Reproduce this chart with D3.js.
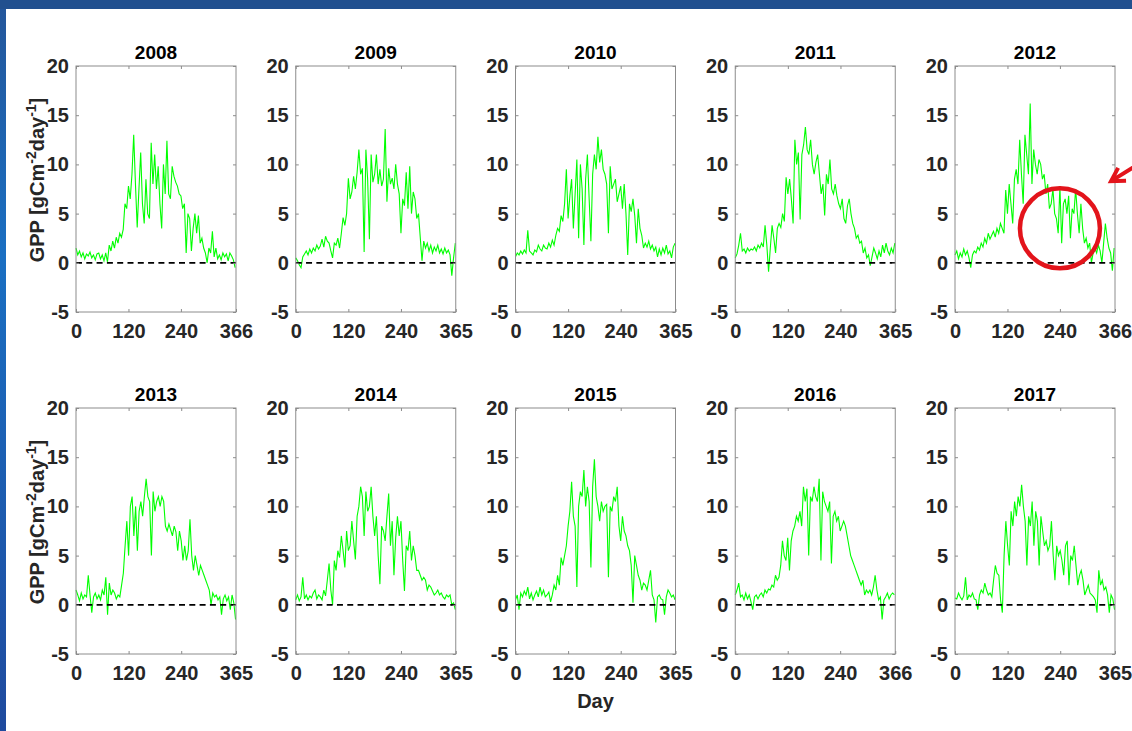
<html>
<head>
    <script src="https://d3js.org/d3.v7.min.js"></script>
</head>
<style>
    body { margin: 0; background: white; }
    .gppchart { font-family: Arial, "Liberation Sans", sans-serif; }
    .tick line { stroke: #8c8c8c; stroke-width: 1px; }
    .tick text { font-size: 20px; font-weight: bold; fill: #262626; }
    .box { fill: none; stroke: #8c8c8c; stroke-width: 1px; }
    .gpp { fill: none; stroke: #00ff00; stroke-width: 1.1px; }
    .zero { stroke: black; stroke-width: 1.8px; stroke-dasharray: 6,4.3; }
</style>
<body>
    <svg id="gppchart" class="gppchart" width="1132" height="731"></svg>

    <script>
        const years = [2008, 2009, 2010, 2011, 2012, 2013, 2014, 2015, 2016, 2017];
        const yearLength = [366, 365, 365, 365, 366, 365, 365, 365, 366, 365];
        const dayStep = 4;
        const dayTicks = [0, 120, 240];
        const gppTicks = [-5, 0, 5, 10, 15, 20];

        const gpp2008 = [1.5, 0.8, 1.2, 0.6, 1.0, 0.4, 0.9, 0.7, 1.1, 0.5, 0.8, 0.3, 0.9, 1.0, 0.4, 0.8, 0.2, 1.0,
            0.1, 1.8, 1.2, 2.2, 1.5, 2.6, 2.0, 3.0, 2.6, 3.4,
            6.0, 5.5, 7.8, 6.5, 9.0, 13.0,
            8.0, 3.6, 7.5, 11.2, 6.0, 4.0, 8.5, 5.0, 4.5, 12.2, 8.0, 11.0,
            7.5, 9.8, 6.0, 3.5, 10.0, 7.0, 12.4, 7.0, 6.5, 9.8, 8.8, 8.2,
            7.8, 7.0, 6.8, 5.5, 6.0, 1.0, 5.0, 4.5, 1.2, 3.5, 5.0, 3.0,
            4.8, 2.0, 2.5, 1.5, 1.0, 0.0, 1.5, 1.0, 3.2, 0.6, 1.5, 0.4,
            0.8, 0.3, 1.0, 0.6, 0.9, 0.2, 1.0, 0.7, 0.3, -0.5];
        const gpp2009 = [0.5, 0.2, -0.2, -0.5, 0.6, 0.9, 1.2, 0.8, 1.4, 1.0,
            1.5, 1.2, 1.8, 1.4, 1.7, 2.4, 1.6, 2.7, 2.2, 2.0,
            1.2, 0.5, 2.0, 1.8, 2.5, 1.5, 3.0, 4.6, 3.8, 5.0,
            8.6, 6.5, 7.2, 8.8, 7.5, 9.2, 11.5, 9.0, 9.6, 1.1,
            11.5, 8.5, 2.4, 11.0, 8.2, 9.0, 11.0, 8.0, 9.5, 7.8,
            8.5, 13.6, 6.2, 9.6, 8.0, 8.6, 7.5, 10.0, 8.0, 7.0,
            3.0, 6.5, 5.8, 9.2, 5.5, 9.8, 5.0, 7.2, 6.5, 4.5,
            5.0, 2.6, 0.2, 2.2, 1.5, 2.0, 1.2, 1.8, 1.0, 1.6,
            1.2, 1.8, 1.0, 1.4, 0.9, 1.5, 1.0, 1.3, 0.8, -1.3, 0.5, 2.0];
        const gpp2010 = [0.6, 1.0, 0.8, 1.2, 0.9, 1.3, 1.0, 3.3, 1.2, 1.0,
            0.8, 1.3, 1.1, 1.8, 1.4, 1.2, 1.8, 1.5, 1.4, 2.0,
            1.6, 2.3, 1.8, 2.8, 3.5, 3.2, 4.8, 4.2, 6.0, 9.5,
            4.5, 6.8, 8.5, 3.5, 7.0, 10.5, 2.5, 10.0, 7.5, 1.8,
            8.5, 11.0, 6.5, 2.2, 9.0, 11.0, 9.5, 12.8, 10.2, 11.5,
            9.5, 9.0, 8.0, 3.0, 9.8, 7.5, 8.0, 8.5, 6.2, 7.0,
            7.8, 5.5, 8.0, 5.0, 0.8, 6.0, 5.2, 6.5, 4.8, 2.0,
            5.5, 3.5, 2.8, 1.5, 2.0, 1.6, 2.2, 1.4, 1.8, 1.2,
            1.6, 0.6, 1.4, 0.8, 1.5, 1.0, 1.8, 0.9, 1.2, 0.5, 1.6, 2.0];
        const gpp2011 = [0.5, 0.9, 1.8, 3.0, 1.2, 1.4, 1.0, 1.5, 1.2, 1.4,
            1.3, 1.6, 1.2, 1.8, 1.5, 2.0, 1.6, 3.8, 1.8, -0.9,
            1.5, 3.8, 2.5, 1.0, 3.5, 4.0, 3.6, 5.0, 4.2, 8.7,
            7.0, 8.5, 6.5, 4.0, 12.5, 10.0, 11.2, 4.4, 11.0, 12.0,
            13.8, 11.5, 11.0, 12.5, 10.0, 9.0, 10.2, 11.0, 9.0, 7.0,
            8.0, 4.8, 9.0, 8.0, 10.5, 7.5, 7.0, 8.0, 6.8, 6.0,
            5.5, 6.5, 4.5, 4.0, 5.8, 6.5, 5.0, 4.0, 3.5, 2.5,
            2.8, 2.0, 2.2, 1.0, 1.5, 0.5, 0.8, -0.3, 0.6, 1.5,
            1.0, 0.4, 1.2, 0.6, 1.8, 1.0, 2.0, 1.2, 0.8, 1.5, 1.0, 2.0];
        const gpp2012 = [0.8, 1.2, 0.4, 1.0, 0.6, 1.4, 0.8, 1.2, 0.5, -0.5,
            0.8, 1.2, 1.0, 1.6, 1.3, 2.0, 1.6, 2.5, 2.0, 3.0,
            2.4, 2.8, 3.2, 2.6, 3.5, 3.0, 4.0, 3.5, 3.0, 7.4,
            5.0, 8.0, 6.0, 4.0, 8.5, 9.5, 8.0, 12.5, 9.0, 6.0,
            13.0, 11.0, 9.0, 16.2, 8.0, 11.5, 10.0, 9.0, 10.5, 10.0,
            8.5, 9.0, 7.0, 8.0, 5.5, 6.0, 7.5, 5.0, 4.5, 3.0,
            7.8, 2.0, 6.0, 6.5, 5.0, 6.8, 2.5, 5.5, 5.0, 7.5,
            5.0, 3.0, 6.0, 3.5, 2.0, 2.5, 1.5, 2.0, 0.0, 1.0,
            1.5, 1.0, 1.8, 1.2, 0.0, 2.0, 4.0, 2.5, 1.5, 1.0, -0.8, 1.5];
        const gpp2013 = [1.5, 1.0, 0.4, 1.2, 0.6, 1.0, 0.8, 3.0, 1.0, -0.8,
            0.8, 1.2, 0.6, 1.0, 0.5, 1.5, 1.0, 2.8, -1.0, 2.2,
            1.0, 1.5, 1.2, 0.6, 1.0, 0.8, 2.0, 3.2, 6.0, 8.5,
            5.0, 10.0, 11.0, 7.0, 10.0, 5.5, 9.5, 10.5, 9.0, 11.0,
            12.8, 11.0, 10.5, 5.0, 11.5, 9.5, 10.5, 11.0, 10.0, 11.0,
            10.5, 8.0, 7.5, 8.2, 7.6, 7.0, 8.0, 7.4, 5.5, 7.5,
            6.5, 4.5, 6.0, 4.5, 5.5, 8.7, 5.0, 3.5, 5.0, 4.0,
            3.0, 4.0, 3.5, 3.0, 2.5, 2.0, 1.5, 0.0, 1.2, 0.8,
            1.0, 0.5, 0.8, -1.0, 0.6, 1.0, 0.4, 0.8, -0.5, 1.0, 0.2, -1.5];
        const gpp2014 = [0.5, 1.0, 0.4, 0.8, 2.8, 0.6, 1.0, 0.5, 0.9, 0.7,
            1.2, 1.5, 0.6, 1.0, 0.8, 0.5, 1.5, 0.9, 2.5, 4.2,
            1.5, 0.0, 4.5, 3.5, 5.5, 4.8, 7.0, 5.5, 3.8, 7.5,
            5.5, 6.0, 8.5, 6.5, 4.6, 9.0, 10.0, 12.0, 11.0, 7.0,
            11.5, 9.5, 10.0, 12.0, 9.0, 7.0, 9.0, 5.0, 2.1, 8.0,
            7.5, 6.5, 9.0, 11.3, 6.0, 8.5, 3.0, 6.8, 9.0, 7.0,
            8.5, 4.5, 1.4, 6.0, 5.5, 7.5, 4.5, 6.0, 5.0, 3.5,
            3.5, 3.0, 2.5, 2.8, 2.5, 1.5, 2.0, 1.8, 1.4, 1.0,
            1.2, 1.5, 1.0, 1.2, 0.8, 0.6, 1.0, 0.8, 1.0, 0.0, 0.2, -0.5];
        const gpp2015 = [0.5, 1.0, -0.5, 1.2, 0.8, 1.4, 1.0, 1.8, 0.6, 1.2,
            0.5, 1.0, 1.4, 0.8, 1.8, 1.0, 1.5, 0.8, 1.0, 1.3,
            0.3, 1.0, 2.0, 1.5, 3.0, 2.0, 4.8, 4.0, 5.0, 6.0,
            8.0, 9.5, 12.5, 9.0, 8.0, 1.8, 10.0, 11.5, 11.0, 13.7,
            10.0, 12.0, 10.5, 3.8, 12.0, 14.8, 11.0, 10.0, 8.5, 10.5,
            9.5, 10.0, 10.2, 2.8, 10.0, 9.5, 11.0, 10.5, 12.0, 8.0,
            6.5, 9.0, 7.5, 7.0, 6.0, 5.5, 4.0, 0.2, 5.0, 4.0,
            3.0, 2.5, 1.5, 2.2, 2.0, 1.5, 2.5, 3.5, 1.0, 0.5,
            -1.8, 0.8, 1.0, 0.6, 0.5, -1.0, 0.8, 1.5, 1.2, 0.8, 1.0, 0.5];
        const gpp2016 = [1.0, 1.5, 2.2, 0.8, 1.0, 0.5, 1.2, 0.6, 1.0, 0.3,
            -0.5, 0.8, 1.0, 0.6, 1.0, 1.2, 0.8, 1.5, 1.2, 1.6,
            1.5, 2.0, 1.8, 3.0, 2.5, 2.8, 4.0, 6.5, 5.0, 4.5,
            6.8, 3.5, 6.5, 7.5, 8.0, 9.0, 8.5, 9.5, 8.0, 12.0,
            10.5, 11.8, 5.0, 11.0, 10.5, 12.0, 11.0, 10.5, 12.8, 4.5,
            11.5, 10.5, 10.0, 9.5, 10.5, 4.2, 9.0, 9.5, 8.5, 9.0,
            7.5, 8.0, 8.5, 8.0, 7.0, 6.0, 5.0, 4.5, 4.0, 3.5,
            3.0, 2.5, 2.0, 2.5, 1.0, 1.5, 1.2, 1.5, 1.0, 1.8,
            3.0, 1.5, 0.5, 0.8, -1.5, 0.5, 0.8, 1.2, 0.6, 1.0, 1.2, 1.0];
        const gpp2017 = [0.7, 0.6, 1.2, 0.8, 0.5, 0.9, 2.8, 0.5, 1.0, 0.8,
            1.2, 0.6, 0.5, -0.5, 1.0, 1.5, 1.2, 2.2, 1.5, 1.0,
            1.2, 0.8, 2.5, 4.0, 3.2, 3.0, 0.5, -0.8, 5.0, 8.5,
            6.0, 4.0, 9.5, 8.0, 10.5, 9.0, 11.0, 10.0, 12.2, 10.0,
            8.5, 4.0, 9.0, 8.0, 10.5, 6.0, 9.5, 8.5, 4.0, 9.0,
            7.5, 6.0, 6.5, 5.5, 6.0, 8.5, 5.0, 2.5, 6.0, 5.0,
            5.5, 4.5, 3.0, 6.0, 6.5, 2.0, 5.0, 4.5, 6.0, 4.0,
            2.0, 3.0, 3.5, 2.5, 1.0, 1.5, 2.0, 1.2, 1.0, 0.8,
            0.5, -0.8, 3.5, 2.0, 2.5, 1.5, 1.8, 1.0, -0.8, 1.0, 0.6, -0.5];

        const gppByYear = [gpp2008, gpp2009, gpp2010, gpp2011, gpp2012,
                           gpp2013, gpp2014, gpp2015, gpp2016, gpp2017];

        // annotation in the 2012 panel (data units)
        const circleAt = { year: 2012, day: 240, gpp: 3.5 };
        const arrowAt = { year: 2012, day: 357, gpp: 8.3 };

        const svg = d3.select('svg#gppchart');
        const width = +svg.attr('width');
        const height = +svg.attr('height');

        // blue slide frame
        const grad = svg.append("defs").append("linearGradient")
            .attr("id", "edge").attr("x1", 0).attr("y1", 0).attr("x2", 0).attr("y2", 1);
        grad.append("stop").attr("offset", "0%").attr("stop-color", "#24569a");
        grad.append("stop").attr("offset", "35%").attr("stop-color", "#1a6fc2");
        grad.append("stop").attr("offset", "100%").attr("stop-color", "#1f4a9e");
        svg.append("rect").attr("width", width).attr("height", height).attr("fill", "white");
        svg.append("rect").attr("width", 6).attr("height", height).attr("fill", "url(#edge)");
        svg.append("rect").attr("width", width).attr("height", 9).attr("fill", "#21508f");

        const panelW = 160, panelH = 246;
        const colX = c => 76 + c * 219.75;
        const rowY = [66, 408];

        years.forEach((year, k) => {
            const col = k % 5, row = Math.floor(k / 5);
            const n = yearLength[k];
            const g = svg.append("g")
                .attr("transform", "translate(" + colX(col) + "," + rowY[row] + ")");

            const x = d3.scaleLinear().domain([0, n]).range([0, panelW]);
            const y = d3.scaleLinear().domain([-5, 20]).range([panelH, 0]);

            const line = d3.line()
                .x((d, i) => x(Math.min(i * dayStep, n)))
                .y(d => y(d));

            g.append("path").datum(gppByYear[k]).attr("class", "gpp").attr("d", line);

            g.append("line").attr("class", "zero")
                .attr("x1", x(0)).attr("x2", x(n))
                .attr("y1", y(0)).attr("y2", y(0));

            // axes, ticks pointing inward like matlab
            g.append("g")
                .call(d3.axisLeft(y).tickValues(gppTicks).tickSize(-3).tickPadding(7)
                    .tickFormat(d => String(d)))
                .call(a => a.select(".domain").remove());
            g.append("g").attr("transform", "translate(" + panelW + ",0)")
                .call(d3.axisRight(y).tickValues(gppTicks).tickSize(-3).tickFormat(""))
                .call(a => a.select(".domain").remove());
            g.append("g").attr("transform", "translate(0," + panelH + ")")
                .call(d3.axisBottom(x).tickValues(dayTicks.concat([n])).tickSize(-3).tickPadding(12)
                    .tickFormat(d => String(d)))
                .call(a => a.select(".domain").remove());
            g.append("g")
                .call(d3.axisTop(x).tickValues(dayTicks).tickSize(-3).tickFormat(""))
                .call(a => a.select(".domain").remove());

            g.append("rect").attr("class", "box")
                .attr("x", 0).attr("y", 0).attr("width", panelW).attr("height", panelH);

            g.append("text")
                .attr("x", panelW / 2).attr("y", -7)
                .attr("text-anchor", "middle")
                .style("font-size", "19px").style("font-weight", "bold")
                .text(year);

            if (col === 0) {
                const lab = svg.append("text")
                    .attr("transform", "translate(44," + (rowY[row] + panelH / 2 - 9) + ") rotate(-90)")
                    .attr("text-anchor", "middle")
                    .style("font-size", "20px").style("font-weight", "bold").style("fill", "#262626");
                lab.append("tspan").text("GPP [gCm");
                lab.append("tspan").attr("dy", -8).style("font-size", "14px").text("-2");
                lab.append("tspan").attr("dy", 8).text("day");
                lab.append("tspan").attr("dy", -8).style("font-size", "14px").text("-1");
                lab.append("tspan").attr("dy", 8).text("]");
            }

            if (row === 1 && col === 2) {
                svg.append("text")
                    .attr("x", colX(col) + panelW / 2).attr("y", 708)
                    .attr("text-anchor", "middle")
                    .style("font-size", "20px").style("font-weight", "bold").style("fill", "#262626")
                    .text("Day");
            }

            if (year === circleAt.year) {
                const ox = colX(col), oy = rowY[row];
                svg.append("circle")
                    .attr("cx", ox + x(circleAt.day)).attr("cy", oy + y(circleAt.gpp))
                    .attr("r", 40)
                    .attr("fill", "none").attr("stroke", "#e3141b").attr("stroke-width", 4.5);

                const tx = ox + x(arrowAt.day), ty = oy + y(arrowAt.gpp);
                const ang = Math.atan2(-18, 29);
                const arm = 15, spread = Math.PI / 6;
                svg.append("path")
                    .attr("d", "M" + tx + "," + ty + "L" + (tx + 40 * Math.cos(ang)) + "," + (ty + 40 * Math.sin(ang)) +
                        "M" + (tx + arm * Math.cos(ang - spread)) + "," + (ty + arm * Math.sin(ang - spread)) +
                        "L" + tx + "," + ty +
                        "L" + (tx + arm * Math.cos(ang + spread)) + "," + (ty + arm * Math.sin(ang + spread)))
                    .attr("fill", "none").attr("stroke", "#e3141b").attr("stroke-width", 4)
                    .attr("stroke-linejoin", "miter");
            }
        });
    </script>
</body>
</html>
